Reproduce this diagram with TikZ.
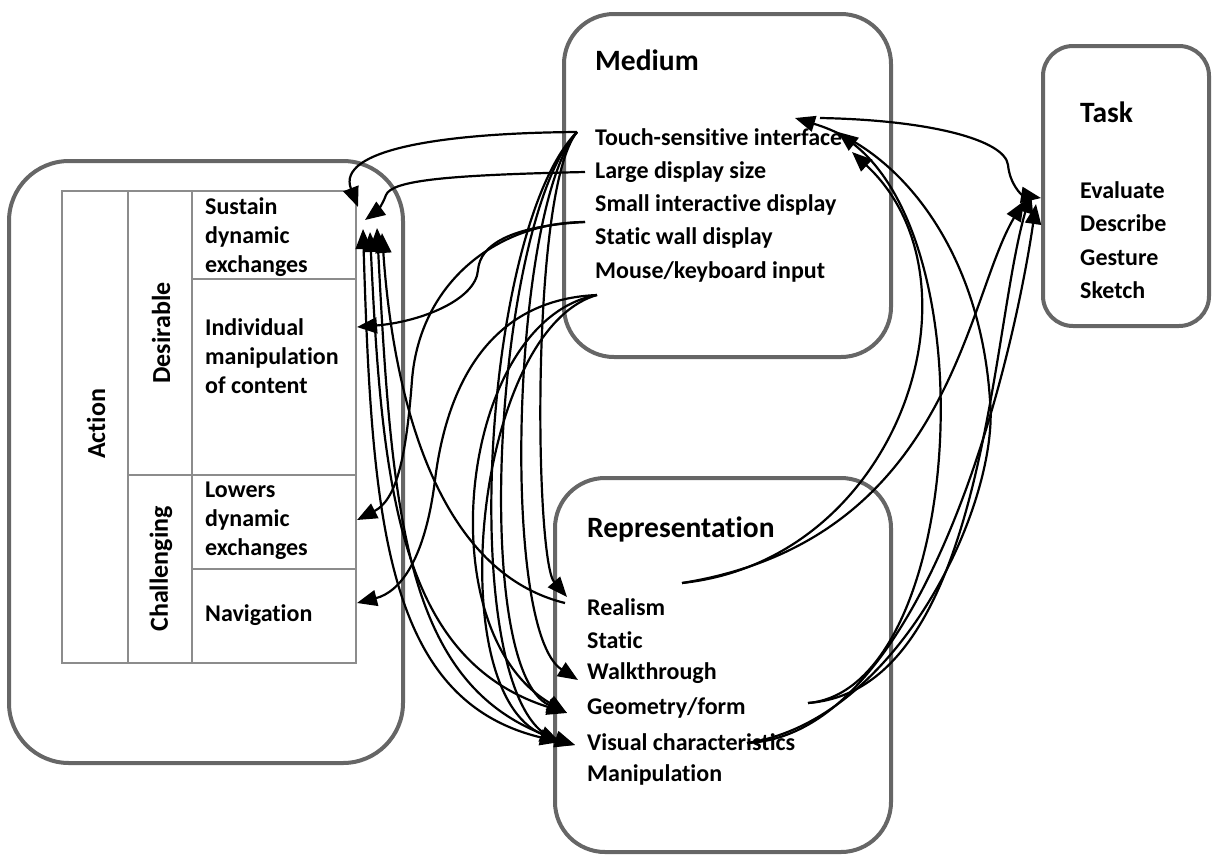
\documentclass[tikz,border=0pt]{standalone}
\usepackage{fontspec}
\setmainfont{Carlito}[Ligatures=NoCommon]
\usetikzlibrary{arrows.meta}
\definecolor{framegray}{HTML}{666666}
\definecolor{rulegray}{HTML}{8C8C8C}
\begin{document}
\begin{tikzpicture}[x=1pt,y=-1pt,
  frame/.style={draw=framegray, line width=4pt, rounded corners=#1},
  frame/.default=50pt,
  cell/.style={draw=rulegray, line width=1.6pt},
  item/.style={anchor=west, inner sep=0pt, align=left,
    font=\fontsize{24}{29}\selectfont\bfseries},
  title/.style={anchor=west, inner sep=0pt,
    font=\fontsize{29.5}{33}\selectfont\bfseries},
  side/.style={rotate=90, inner sep=0pt,
    font=\fontsize{26}{30}\selectfont\bfseries},
  conn/.style={line width=2.2pt, black},
  tip/.style={conn, -{Triangle[length=20pt,width=16pt]}},
  tips/.style={conn, {Triangle[length=20pt,width=16pt]}-{Triangle[length=20pt,width=16pt]}}
]
\useasboundingbox (0,0) rectangle (1213,855);

% ---------- frames ----------
\draw[frame=60pt] (9,161) rectangle (403,763);
\draw[frame] (564,14) rectangle (891,357);
\draw[frame=30pt] (1043,46) rectangle (1209,326);
\draw[frame] (555,478) rectangle (891,852);

% ---------- action table ----------
\draw[cell] (62,191) rectangle (356,663);
\draw[cell] (128,191) -- (128,663);
\draw[cell] (192,191) -- (192,663);
\draw[cell] (192,279) -- (356,279);
\draw[cell] (128,475) -- (356,475);
\draw[cell] (192,569) -- (356,569);

\node[side] (action) at (96,424) {Action};
\node[side] (desirable) at (161,333) {Desirable};
\node[side] (challenging) at (161,569) {Challenging};

\node[item] (sustain) at (205,237) {Sustain\\dynamic\\exchanges};
\node[item] (individual) at (205,356) {Individual\\manipulation\\of content};
\node[item] (lowers) at (205,521) {Lowers\\dynamic\\exchanges};
\node[item] (navigation) at (205,615) {Navigation};

% ---------- medium ----------
\node[title] (medium) at (595,60) {Medium};
\node[item] (touch) at (595,137) {Touch-sensitive interface};
\node[item] (large) at (595,172) {Large display size};
\node[item] (small) at (595,205) {Small interactive display};
\node[item] (wall) at (595,238) {Static wall display};
\node[item] (mouse) at (595,272) {Mouse/keyboard input};

% ---------- task ----------
\node[title] (task) at (1080,112) {Task};
\node[item] (evaluate) at (1080,190) {Evaluate};
\node[item] (describe) at (1080,223) {Describe};
\node[item] (gesture) at (1080,258) {Gesture};
\node[item] (sketch) at (1080,290) {Sketch};

% ---------- representation ----------
\node[title] (repr) at (587,529) {Representation};
\node[item] (realism) at (587,607) {Realism};
\node[item] (static) at (587,640) {Static};
\node[item] (walk) at (587,673) {Walkthrough};
\node[item] (geometry) at (587,708) {Geometry/form};
\node[item] (visual) at (587,742) {Visual characteristics};
\node[item] (manip) at (587,775) {Manipulation};

% ---------- connector ends ----------
\coordinate (tchW) at (577,132);
\coordinate (tchE) at (820,118);
\coordinate (lrgW) at (585,172);
\coordinate (wallW) at (585,222);
\coordinate (mseW) at (597,295);
\coordinate (susA) at (358,207);
\coordinate (susB) at (365,220);
\coordinate (susC) at (363,229);
\coordinate (susD) at (377,228);
\coordinate (susE) at (370,232);
\coordinate (susF) at (382,233);
\coordinate (indW) at (357,327);
\coordinate (lowW) at (357,520);
\coordinate (navW) at (357,603);
\coordinate (reaT) at (567,597);
\coordinate (reaL) at (565,603);
\coordinate (reaE) at (682,583);
\coordinate (walW) at (578,680);
\coordinate (geoW) at (567,713);
\coordinate (geoE) at (808,703);
\coordinate (visW) at (560,742);
\coordinate (visV) at (575,745);
\coordinate (visE) at (747,743);
\coordinate (tchR1) at (795,118);
\coordinate (tchR2) at (838,132);
\coordinate (tchR3) at (852,152);
\coordinate (tskA) at (1041,198);
\coordinate (tskB) at (1031,193);
\coordinate (tskC) at (1024,201);
\coordinate (tskD) at (1036,204);

% ---------- medium -> action ----------
\draw[tip] (tchW) .. controls (440,133) and (336,150) .. (susA);
\draw[tip] (lrgW) .. controls (450,175) and (392,180) .. (386,195)
  .. controls (382,206) and (376,212) .. (susB);
\draw[tip] (wallW) .. controls (510,226) and (480,245) .. (478,270)
  .. controls (476,300) and (420,322) .. (indW);
\draw[tip] (wallW) .. controls (500,222) and (420,280) .. (412,380)
  .. controls (406,460) and (396,500) .. (lowW);
\draw[tip] (mseW) .. controls (480,300) and (445,400) .. (435,480)
  .. controls (425,560) and (400,592) .. (navW);

% ---------- medium -> representation ----------
\draw[tip] (tchW) .. controls (530,190) and (535,560) .. (reaT);
\draw[tip] (tchW) .. controls (512,210) and (500,630) .. (walW);
\draw[tip] (tchW) .. controls (495,220) and (470,670) .. (geoW);
\draw[tip] (tchW) .. controls (480,230) and (455,710) .. (visV);
\draw[tip] (mseW) .. controls (460,320) and (425,630) .. (geoW);
\draw[tip] (mseW) .. controls (475,330) and (440,690) .. (visW);

% ---------- action <-> representation ----------
\draw[tips] (susC) .. controls (372,520) and (385,700) .. (visW);
\draw[tips] (susD) .. controls (392,520) and (405,690) .. (visV);
\draw[tips] (susE) .. controls (382,490) and (400,660) .. (geoW);
\draw[tip] (reaL) .. controls (430,570) and (392,380) .. (susF);

% ---------- representation -> medium / task ----------
\draw[tip] (reaE) .. controls (900,560) and (990,280) .. (tchR3);
\draw[tip] (reaE) .. controls (950,540) and (965,300) .. (tskC);
\draw[tip] (geoE) .. controls (960,690) and (990,250) .. (tchR2);
\draw[tip] (geoE) .. controls (985,690) and (990,330) .. (tskB);
\draw[tip] (visE) .. controls (920,735) and (1010,380) .. (tskD);
\draw[tip] (visE) .. controls (900,720) and (1000,500) .. (990,400)
  .. controls (980,250) and (900,150) .. (tchR1);

% ---------- medium -> task ----------
\draw[tip] (tchE) .. controls (930,120) and (1005,140) .. (1008,165)
  .. controls (1010,185) and (1022,195) .. (tskA);
\end{tikzpicture}
\end{document}
